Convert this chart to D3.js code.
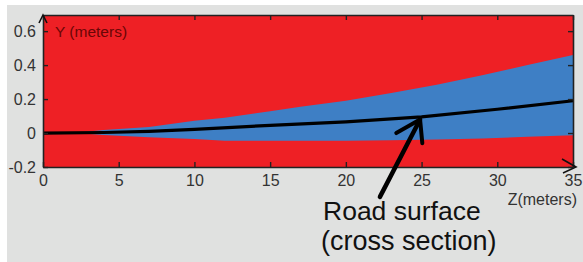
<!DOCTYPE html>
<html>
<head>
<meta charset="utf-8">
<script src="https://cdn.jsdelivr.net/npm/d3@7"></script>
<style>
  body { margin: 0; background: #fff; }
  svg { display: block; font-family: "Liberation Sans", Arial, sans-serif; }
</style>
</head>
<body>
<svg id="chart" width="583" height="262"></svg>
<script>
// distance along the road (m)
var zBand = [0, 2.5, 4, 7, 10, 12, 15, 17, 20, 23, 26, 29, 32, 35];
// blue region, upper and lower edge (m)
var bandTop = [0, 0.004, 0.018, 0.036, 0.072, 0.09, 0.128, 0.155, 0.19, 0.235, 0.285, 0.34, 0.4, 0.46];
var bandBottom = [0, -0.002, -0.012, -0.025, -0.035, -0.045, -0.046, -0.046, -0.045, -0.042, -0.038, -0.032, -0.022, -0.013];
// road surface profile
var zRoad = [0, 4, 7, 10, 15, 20, 25, 30, 35];
var yRoad = [0, 0.003, 0.01, 0.022, 0.045, 0.066, 0.095, 0.14, 0.19];
var xTicks = [0, 5, 10, 15, 20, 25, 30, 35];
var yTicks = [-0.2, 0, 0.2, 0.4, 0.6];
var yTickLabels = ["-0.2", "0", "0.2", "0.4", "0.6"];

const svg = d3.select("#chart");

// grey panel
svg.append("rect").attr("x", 7).attr("y", 5).attr("width", 576).attr("height", 257)
  .attr("fill", "#e0e1e0");

var x = d3.scaleLinear().domain([0, 35]).range([43, 573]);
var y = d3.scaleLinear().domain([-0.2, 0.695]).range([167, 15]);

// red background of the plot
svg.append("rect")
  .attr("x", x(0)).attr("y", y(0.695))
  .attr("width", x(35) - x(0)).attr("height", y(-0.2) - y(0.695))
  .attr("fill", "#ee2025");

var band = zBand.map(function (z, i) {
  return { z: z, top: bandTop[i], bottom: bandBottom[i] };
});

var area = d3.area()
  .x(function (d) { return x(d.z); })
  .y0(function (d) { return y(d.bottom); })
  .y1(function (d) { return y(d.top); });

svg.append("path").datum(band).attr("d", area).attr("fill", "#3e7fc5");

var road = zRoad.map(function (z, i) { return [z, yRoad[i]]; });
svg.append("path").datum(road)
  .attr("d", d3.line().x(function (d) { return x(d[0]); }).y(function (d) { return y(d[1]); }))
  .attr("fill", "none").attr("stroke", "#000").attr("stroke-width", 3.2);

// axes (ticks inside on all four sides)
var axisColor = "#222";
svg.append("g").attr("transform", "translate(0," + y(-0.2) + ")")
  .call(d3.axisBottom(x).tickValues(xTicks).tickSizeInner(-5).tickSizeOuter(0).tickPadding(8))
  .call(styleAxis);
svg.append("g").attr("transform", "translate(0," + y(0.695) + ")")
  .call(d3.axisTop(x).tickValues(xTicks).tickSizeInner(-5).tickSizeOuter(0).tickFormat(""))
  .call(styleAxis);
svg.append("g").attr("transform", "translate(" + x(0) + ",0)")
  .call(d3.axisLeft(y).tickValues(yTicks).tickSizeInner(-5).tickSizeOuter(0).tickPadding(7)
    .tickFormat(function (d, i) { return yTickLabels[i]; }))
  .call(styleAxis);
svg.append("g").attr("transform", "translate(" + x(35) + ",0)")
  .call(d3.axisRight(y).tickValues(yTicks).tickSizeInner(-5).tickSizeOuter(0).tickFormat(""))
  .call(styleAxis);

function styleAxis(g) {
  g.select(".domain").attr("stroke", axisColor).attr("stroke-width", 1.6);
  g.selectAll(".tick line").attr("stroke", axisColor).attr("stroke-width", 1.4);
  g.selectAll(".tick text").attr("fill", "#333").attr("font-size", "16px")
    .attr("font-family", "Liberation Sans, Arial, sans-serif");
}

// axis arrows
svg.append("path")
  .attr("d", "M" + (x(0) - 4) + "," + (y(0.695) + 8) + "L" + x(0) + "," + y(0.695) +
    "L" + (x(0) + 4) + "," + (y(0.695) + 8))
  .attr("fill", "none").attr("stroke", "#111").attr("stroke-width", 1.6);
svg.append("path")
  .attr("d", "M" + (x(35) - 11) + "," + (y(-0.2) - 8) + "L" + (x(35) + 3) + "," + y(-0.2) +
    "L" + (x(35) - 10) + "," + (y(-0.2) + 6))
  .attr("fill", "none").attr("stroke", "#111").attr("stroke-width", 1.6);

svg.append("text").attr("x", 55).attr("y", 37)
  .attr("font-size", "15.5px").attr("fill", "#6a0606")
  .text("Y (meters)");

svg.append("text").attr("x", 577).attr("y", 205).attr("text-anchor", "end")
  .attr("font-size", "16px").attr("fill", "#333")
  .text("Z(meters)");

// annotation arrow (data coordinates)
var tip = [24.9, 0.08];
var tail = [22.25, -0.376];
var barbL = [23.33, 0.0];
var barbR = [25.05, -0.06];
var line = d3.line().x(function (d) { return x(d[0]); }).y(function (d) { return y(d[1]); });
svg.append("path").attr("d", line([tail, tip]))
  .attr("fill", "none").attr("stroke", "#000").attr("stroke-width", 4.5).attr("stroke-linecap", "round");
svg.append("path").attr("d", line([barbL, tip, barbR]))
  .attr("fill", "none").attr("stroke", "#000").attr("stroke-width", 4)
  .attr("stroke-linecap", "round").attr("stroke-linejoin", "round");

svg.append("text").attr("x", 323).attr("y", 220)
  .attr("font-size", "26.5px").attr("fill", "#111")
  .text("Road surface");
svg.append("text").attr("x", 321).attr("y", 250)
  .attr("font-size", "27px").attr("fill", "#111")
  .text("(cross section)");
</script>
</body>
</html>
